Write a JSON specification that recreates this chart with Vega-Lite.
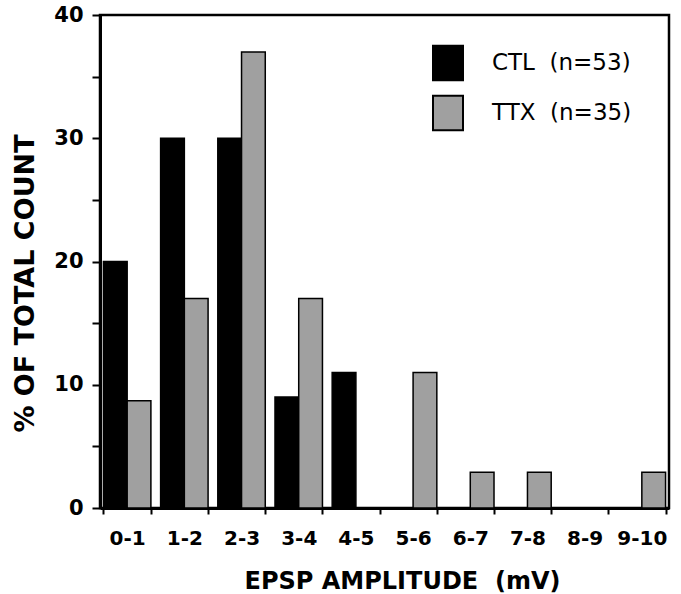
{
  "$schema": "https://vega.github.io/schema/vega-lite/v6.json",
  "autosize": {"type": "none"},
  "padding": {"left": 100, "top": 15, "right": 12, "bottom": 86},
  "width": 569,
  "height": 493,
  "background": "white",
  "data": {
    "values": [
      {"range": "0-1", "group": "CTL (n=53)", "pct": 20},
      {"range": "1-2", "group": "CTL (n=53)", "pct": 30},
      {"range": "2-3", "group": "CTL (n=53)", "pct": 30},
      {"range": "3-4", "group": "CTL (n=53)", "pct": 9},
      {"range": "4-5", "group": "CTL (n=53)", "pct": 11},
      {"range": "5-6", "group": "CTL (n=53)", "pct": 0},
      {"range": "6-7", "group": "CTL (n=53)", "pct": 0},
      {"range": "7-8", "group": "CTL (n=53)", "pct": 0},
      {"range": "8-9", "group": "CTL (n=53)", "pct": 0},
      {"range": "9-10", "group": "CTL (n=53)", "pct": 0},
      {"range": "0-1", "group": "TTX (n=35)", "pct": 8.7},
      {"range": "1-2", "group": "TTX (n=35)", "pct": 17},
      {"range": "2-3", "group": "TTX (n=35)", "pct": 37},
      {"range": "3-4", "group": "TTX (n=35)", "pct": 17},
      {"range": "4-5", "group": "TTX (n=35)", "pct": 0},
      {"range": "5-6", "group": "TTX (n=35)", "pct": 11},
      {"range": "6-7", "group": "TTX (n=35)", "pct": 2.9},
      {"range": "7-8", "group": "TTX (n=35)", "pct": 2.9},
      {"range": "8-9", "group": "TTX (n=35)", "pct": 0},
      {"range": "9-10", "group": "TTX (n=35)", "pct": 2.9}
    ]
  },
  "mark": {"type": "bar", "stroke": "black", "strokeWidth": 1.5},
  "encoding": {
    "x": {
      "field": "range",
      "type": "nominal",
      "sort": null,
      "scale": {"paddingInner": 0.17, "paddingOuter": 0.06},
      "axis": {
        "title": "EPSP AMPLITUDE\u00a0 (mV)",
        "labelAngle": 0,
        "tickBand": "extent",
        "tickSize": 6,
        "tickWidth": 2,
        "labelPadding": 14,
        "labelFontSize": 20,
        "labelFontWeight": "bold",
        "titleFontSize": 24,
        "titleFontWeight": "bold",
        "titleX": 302,
        "titleY": 80,
        "titleBaseline": "alphabetic",
        "titleAlign": "center"
      }
    },
    "xOffset": {"field": "group", "type": "nominal", "scale": {"paddingInner": 0, "paddingOuter": 0}},
    "y": {
      "field": "pct",
      "type": "quantitative",
      "scale": {"domain": [0, 40], "nice": false},
      "axis": {
        "title": "% OF TOTAL COUNT",
        "values": [0, 5, 10, 15, 20, 25, 30, 35, 40],
        "labelExpr": "datum.value % 10 === 0 ? datum.label : ''",
        "tickSize": 8,
        "tickWidth": 2,
        "labelPadding": 9,
        "labelFontSize": 21,
        "labelFontWeight": "bold",
        "titleFontSize": 27,
        "titleFontWeight": "bold",
        "titleX": -67,
        "titleY": 268,
        "titleBaseline": "alphabetic",
        "titleAlign": "center",
        "titleAngle": 270,
        "grid": false
      }
    },
    "fill": {
      "field": "group",
      "type": "nominal",
      "scale": {"domain": ["CTL (n=53)", "TTX (n=35)"], "range": ["black", "#a0a0a0"]},
      "legend": {
        "title": null,
        "orient": "none",
        "legendX": 332,
        "legendY": 32,
        "padding": 0,
        "symbolType": "M-1,-1.15H1V1.15H-1Z",
        "symbolSize": 900,
        "symbolStrokeColor": "black",
        "symbolStrokeWidth": 2,
        "labelFontSize": 23,
        "labelOffset": 28,
        "rowPadding": 6,
        "labelExpr": "replace(datum.label, ' ', '\u00a0 ')"
      }
    }
  },
  "config": {
    "font": "DejaVu Sans",
    "view": {"stroke": "black", "strokeWidth": 2.5},
    "axis": {
      "domainColor": "black",
      "domainWidth": 3,
      "tickColor": "black",
      "labelColor": "black",
      "titleColor": "black",
      "grid": false
    },
    "legend": {"labelColor": "black", "labelFont": "DejaVu Sans"}
  }
}
